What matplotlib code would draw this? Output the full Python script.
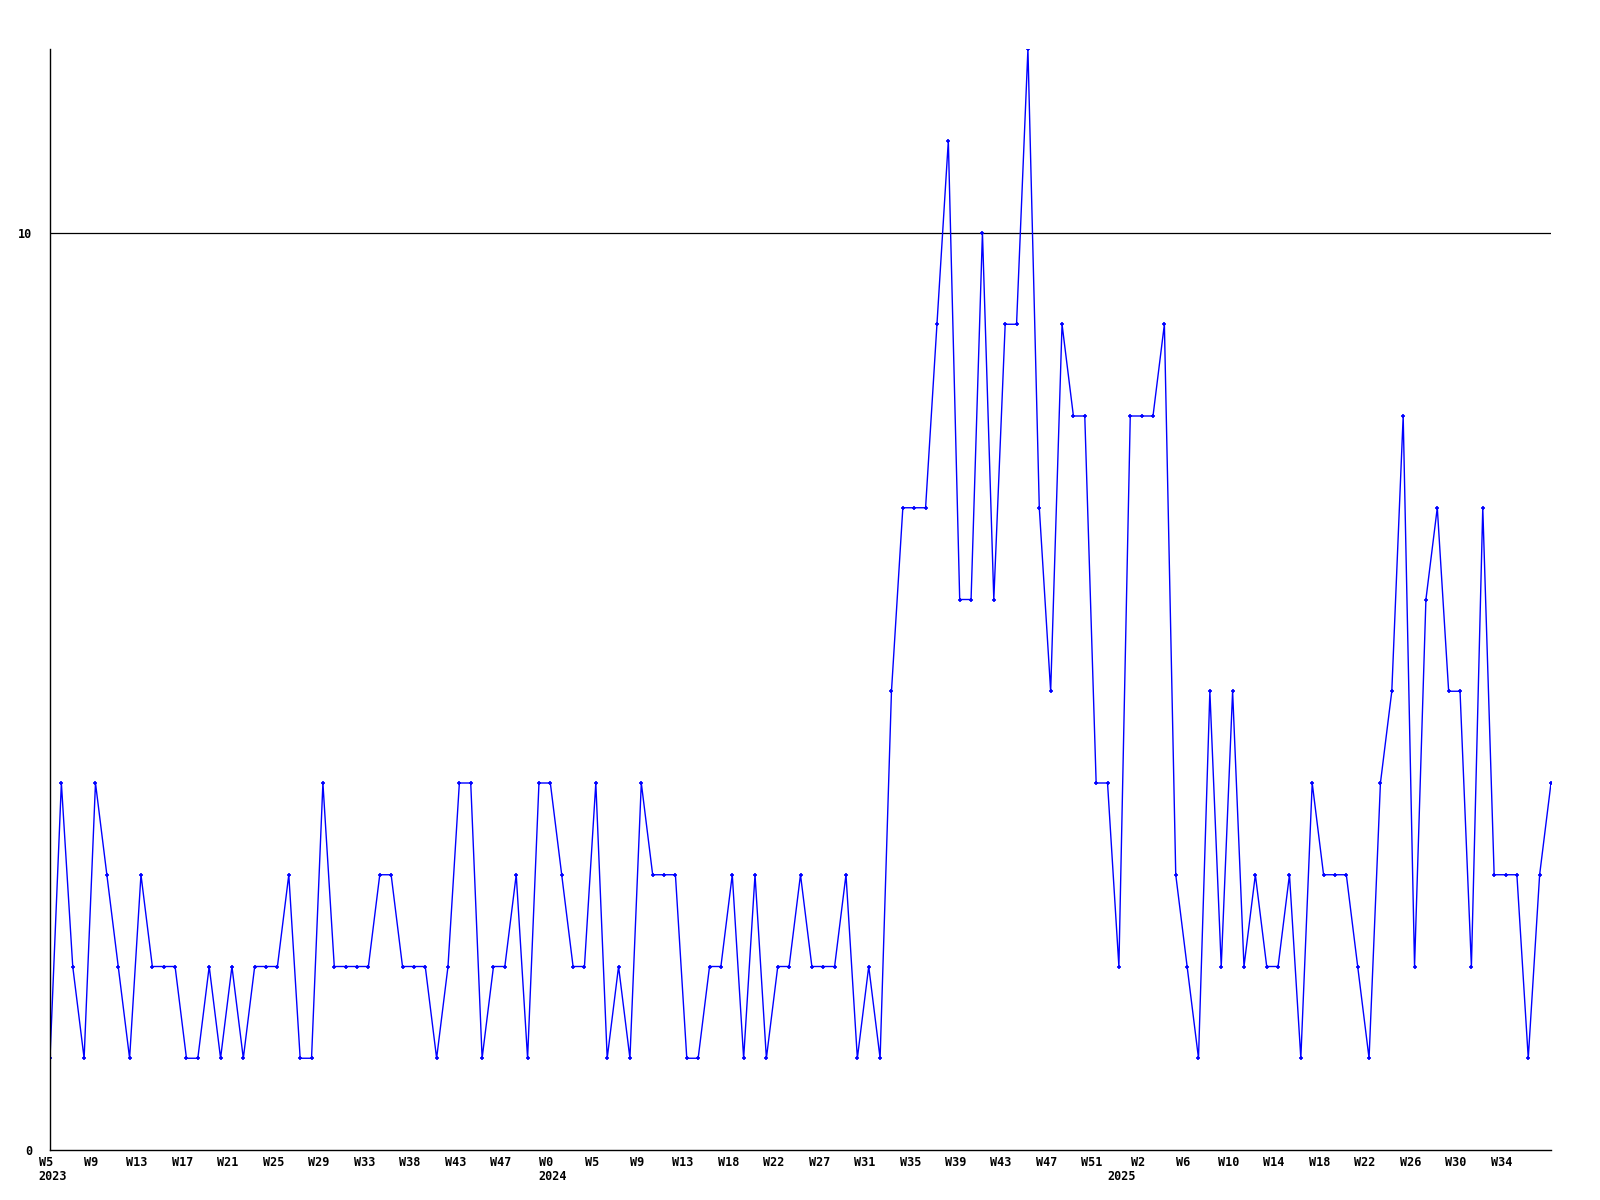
import matplotlib
matplotlib.use("Agg")
import matplotlib.pyplot as plt
import matplotlib.transforms as mtransforms

# weekly counts (first point = W5 2023)
counts = [1, 4, 2, 1, 4, 3, 2, 1, 3, 2,
          2, 2, 1, 1, 2, 1, 2, 1, 2, 2,
          2, 3, 1, 1, 4, 2, 2, 2, 2, 3,
          3, 2, 2, 2, 1, 2, 4, 4, 1, 2,
          2, 3, 1, 4, 4, 3, 2, 2, 4, 1,
          2, 1, 4, 3, 3, 3, 1, 1, 2, 2,
          3, 1, 3, 1, 2, 2, 3, 2, 2, 2,
          3, 1, 2, 1, 5, 7, 7, 7, 9, 11,
          6, 6, 10, 6, 9, 9, 12, 7, 5, 9,
          8, 8, 4, 4, 2, 8, 8, 8, 9, 3,
          2, 1, 5, 2, 5, 2, 3, 2, 2, 3,
          1, 4, 3, 3, 3, 2, 1, 4, 5, 8,
          2, 6, 7, 5, 5, 2, 7, 3, 3, 3,
          1, 3, 4]

# labels every 4th week
week_labels = ["W5", "W9", "W13", "W17", "W21", "W25", "W29", "W33", "W38",
               "W43", "W47", "W0", "W5", "W9", "W13", "W18", "W22", "W27",
               "W31", "W35", "W39", "W43", "W47", "W51", "W2", "W6", "W10",
               "W14", "W18", "W22", "W26", "W30", "W34"]
years = ["2023", "2024", "2025"]
year_start_idx = [0, 44, 94]

y_ticks = [0, 10]
ref_line = 10

font = {"family": "DejaVu Sans Mono", "weight": "bold", "size": 8.5}

fig = plt.figure(figsize=(16, 12), dpi=100)
ax = fig.add_axes([50 / 1600, 1 - 1150 / 1200, 1501 / 1600, 1101 / 1200])

x = list(range(len(counts)))
ax.plot(x, counts, color="#0000ff", linewidth=1, marker="+", markersize=3.5,
        markeredgewidth=1.2)
ax.axhline(ref_line, color="black", linewidth=0.9, zorder=0)

ax.set_xlim(0, len(counts) - 1)
ax.set_ylim(0, 12)

for s in ["top", "right"]:
    ax.spines[s].set_visible(False)
for s in ["left", "bottom"]:
    ax.spines[s].set_linewidth(1.0)

ax.set_yticks(y_ticks)
ax.set_yticklabels([str(v) for v in y_ticks], fontdict=font)
ax.set_xticks(list(range(0, 4 * len(week_labels), 4)))
ax.set_xticklabels(week_labels, fontdict=font)
ax.tick_params(axis="y", length=0, pad=13)
ax.tick_params(axis="x", length=0, pad=4)

# week labels sit a few pixels left of their point in the original
shift = mtransforms.ScaledTranslation(-4 / 100, 0, fig.dpi_scale_trans)
for lab in ax.get_xticklabels():
    lab.set_transform(lab.get_transform() + shift)

trans = mtransforms.blended_transform_factory(ax.transData, ax.transAxes)
for yr, idx in zip(years, year_start_idx):
    ax.text(idx + 0.2, -0.0245, yr, transform=trans, ha="center", va="center",
            fontdict=font)

fig.savefig("out.png", dpi=100)
